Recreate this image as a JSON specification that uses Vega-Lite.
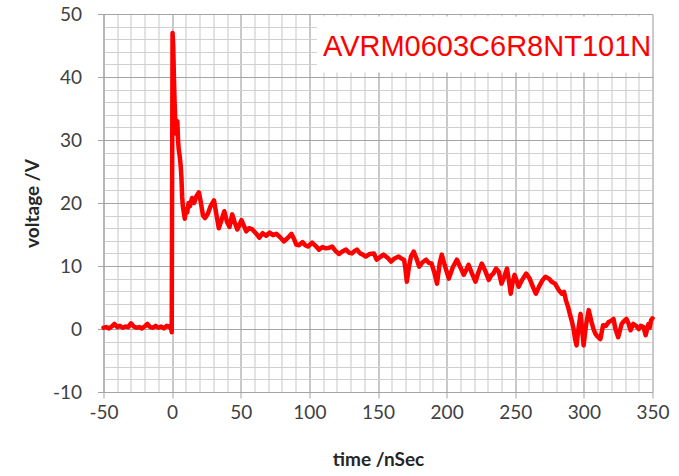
{
  "$schema": "https://vega.github.io/schema/vega-lite/v6.json",
  "width": 549,
  "height": 378,
  "autosize": {"type": "none"},
  "padding": {"left": 103.5, "top": 14, "right": 26.5, "bottom": 84},
  "background": "white",
  "config": {"view": {"stroke": null}},
  "layer": [
    {
      "data": {"values": [{"t": 105.5, "t2": 349.7, "v": 40.7, "v2": 49.6}]},
      "mark": {"type": "rect", "color": "white"},
      "encoding": {
        "x": {"field": "t", "type": "quantitative", "title": "time /nSec"},
        "x2": {"field": "t2"},
        "y": {"field": "v", "type": "quantitative", "title": "voltage /V"},
        "y2": {"field": "v2"}
      }
    },
    {
      "data": {"values": [
        {"t": -50, "v": 0.2}, {"t": -48, "v": 0.3}, {"t": -46, "v": 0.1}, {"t": -44, "v": 0.4}, {"t": -42, "v": 0.8},
        {"t": -40, "v": 0.3}, {"t": -38, "v": 0.5}, {"t": -36, "v": 0.2}, {"t": -34, "v": 0.4}, {"t": -32, "v": 0.3},
        {"t": -30, "v": 0.9}, {"t": -28, "v": 0.4}, {"t": -26, "v": 0.2}, {"t": -24, "v": 0.3}, {"t": -22, "v": 0.1},
        {"t": -20, "v": 0.4}, {"t": -18, "v": 0.8}, {"t": -16, "v": 0.3}, {"t": -14, "v": 0.2}, {"t": -12, "v": 0.5},
        {"t": -10, "v": 0.2}, {"t": -8, "v": 0.4}, {"t": -6, "v": 0.1}, {"t": -4, "v": 0.5}, {"t": -2, "v": 0.3},
        {"t": -1, "v": 0.6}, {"t": -0.3, "v": -0.5}, {"t": 0.3, "v": 47.0}, {"t": 0.8, "v": 45.0}, {"t": 1.3, "v": 40.0},
        {"t": 1.8, "v": 36.0}, {"t": 2.3, "v": 33.0}, {"t": 2.8, "v": 31.0}, {"t": 3.3, "v": 32.5}, {"t": 3.8, "v": 33.0},
        {"t": 4.3, "v": 30.0}, {"t": 4.8, "v": 28.5}, {"t": 5.5, "v": 27.5}, {"t": 6.2, "v": 26.0}, {"t": 6.8, "v": 24.0},
        {"t": 7.3, "v": 21.0}, {"t": 7.8, "v": 19.5}, {"t": 8.5, "v": 18.5}, {"t": 9.2, "v": 17.5}, {"t": 10, "v": 19.0},
        {"t": 11, "v": 18.5}, {"t": 12, "v": 20.0}, {"t": 13, "v": 19.5}, {"t": 14.5, "v": 20.8}, {"t": 16, "v": 20.0},
        {"t": 17.5, "v": 21.0}, {"t": 19.5, "v": 21.7}, {"t": 21, "v": 20.0}, {"t": 22.5, "v": 18.0}, {"t": 24, "v": 17.6},
        {"t": 26, "v": 18.3}, {"t": 28, "v": 19.5}, {"t": 30.5, "v": 20.4}, {"t": 32, "v": 18.5}, {"t": 34, "v": 16.0},
        {"t": 36, "v": 17.3}, {"t": 38, "v": 18.7}, {"t": 40, "v": 17.0}, {"t": 41.8, "v": 16.2}, {"t": 43.8, "v": 18.2},
        {"t": 45.5, "v": 17.0}, {"t": 47.5, "v": 15.8}, {"t": 49, "v": 16.5}, {"t": 50.5, "v": 17.3}, {"t": 52.5, "v": 16.3},
        {"t": 54, "v": 15.5}, {"t": 56, "v": 16.0}, {"t": 58.5, "v": 15.8}, {"t": 61, "v": 15.2}, {"t": 63.5, "v": 14.5},
        {"t": 66, "v": 15.2}, {"t": 68.5, "v": 14.8}, {"t": 71, "v": 15.3}, {"t": 73.5, "v": 14.9}, {"t": 76, "v": 15.1},
        {"t": 78.5, "v": 14.6}, {"t": 81.5, "v": 13.9}, {"t": 84, "v": 14.4}, {"t": 87, "v": 15.1}, {"t": 89, "v": 14.2},
        {"t": 90.5, "v": 13.4}, {"t": 92.5, "v": 13.3}, {"t": 95, "v": 13.8}, {"t": 97, "v": 13.3}, {"t": 99, "v": 13.1},
        {"t": 102, "v": 13.7}, {"t": 104.5, "v": 13.2}, {"t": 107, "v": 12.6}, {"t": 109.5, "v": 13.0}, {"t": 112, "v": 12.8},
        {"t": 114.5, "v": 12.9}, {"t": 116.5, "v": 13.1}, {"t": 119, "v": 12.4}, {"t": 121.6, "v": 11.9}, {"t": 124, "v": 12.3},
        {"t": 126.7, "v": 12.6}, {"t": 129, "v": 12.1}, {"t": 131, "v": 12.0}, {"t": 133, "v": 12.4}, {"t": 134.7, "v": 12.6},
        {"t": 137, "v": 12.0}, {"t": 139, "v": 11.8}, {"t": 141, "v": 11.5}, {"t": 144, "v": 11.9}, {"t": 147, "v": 12.0},
        {"t": 149, "v": 11.0}, {"t": 151.5, "v": 11.4}, {"t": 154, "v": 11.8}, {"t": 157, "v": 11.3}, {"t": 159.5, "v": 10.7},
        {"t": 162, "v": 11.2}, {"t": 165, "v": 11.5}, {"t": 167, "v": 11.2}, {"t": 169, "v": 11.0}, {"t": 170, "v": 9.5},
        {"t": 171, "v": 7.5}, {"t": 172.5, "v": 9.8}, {"t": 174, "v": 11.5}, {"t": 176, "v": 12.3}, {"t": 178, "v": 11.2},
        {"t": 180, "v": 9.9}, {"t": 182.5, "v": 10.6}, {"t": 185, "v": 11.0}, {"t": 187, "v": 10.5}, {"t": 189, "v": 10.4},
        {"t": 191, "v": 9.0}, {"t": 193, "v": 7.2}, {"t": 195, "v": 10.5}, {"t": 196.5, "v": 11.8}, {"t": 198.5, "v": 10.2},
        {"t": 201.6, "v": 8.0}, {"t": 204.5, "v": 9.8}, {"t": 207.5, "v": 11.0}, {"t": 210, "v": 9.8}, {"t": 212.5, "v": 8.6},
        {"t": 214.5, "v": 9.5}, {"t": 216, "v": 10.2}, {"t": 218.5, "v": 8.8}, {"t": 221, "v": 7.5}, {"t": 223.5, "v": 9.2},
        {"t": 225.6, "v": 10.4}, {"t": 228, "v": 9.3}, {"t": 230.7, "v": 7.8}, {"t": 232.5, "v": 8.5}, {"t": 234, "v": 8.8},
        {"t": 236, "v": 9.6}, {"t": 238, "v": 9.1}, {"t": 240, "v": 7.2}, {"t": 242, "v": 8.3}, {"t": 244, "v": 9.6},
        {"t": 245.5, "v": 7.5}, {"t": 246.7, "v": 5.6}, {"t": 248, "v": 7.3}, {"t": 249.5, "v": 8.6}, {"t": 251, "v": 7.7},
        {"t": 252.5, "v": 6.7}, {"t": 255, "v": 7.8}, {"t": 258, "v": 8.8}, {"t": 260.5, "v": 8.0}, {"t": 263, "v": 6.6},
        {"t": 265, "v": 5.6}, {"t": 267.5, "v": 6.8}, {"t": 270, "v": 7.8}, {"t": 272, "v": 8.3}, {"t": 274.5, "v": 8.0},
        {"t": 276.5, "v": 7.5}, {"t": 279, "v": 7.2}, {"t": 281.6, "v": 6.2}, {"t": 284, "v": 5.6}, {"t": 285.5, "v": 5.9},
        {"t": 287, "v": 4.5}, {"t": 288.5, "v": 3.5}, {"t": 290, "v": 2.2}, {"t": 291.5, "v": 1.0}, {"t": 292.5, "v": 0.0},
        {"t": 293.5, "v": -1.5}, {"t": 294.7, "v": -2.6}, {"t": 296, "v": 0.0}, {"t": 297.6, "v": 2.4}, {"t": 298.7, "v": 0.0},
        {"t": 299.8, "v": -2.6}, {"t": 301.5, "v": 0.5}, {"t": 303.5, "v": 3.0}, {"t": 305.6, "v": 1.1}, {"t": 307, "v": 0.0},
        {"t": 308.5, "v": -0.8}, {"t": 310, "v": -1.2}, {"t": 312, "v": -1.6}, {"t": 314, "v": 0.6}, {"t": 316, "v": 0.5},
        {"t": 318, "v": 1.1}, {"t": 320, "v": 1.3}, {"t": 321.6, "v": 1.6}, {"t": 323, "v": 0.0}, {"t": 325, "v": -1.3},
        {"t": 327.5, "v": 0.8}, {"t": 329, "v": 1.2}, {"t": 331, "v": 1.6}, {"t": 332.5, "v": 0.9}, {"t": 334, "v": -0.2},
        {"t": 336, "v": 0.8}, {"t": 338, "v": 0.5}, {"t": 340, "v": 0.0}, {"t": 341.5, "v": 0.5}, {"t": 343.5, "v": 0.3},
        {"t": 345, "v": -1.0}, {"t": 347, "v": 0.8}, {"t": 348, "v": 0.2}, {"t": 349, "v": 1.4}, {"t": 350, "v": 1.7}
      ]},
      "mark": {"type": "line", "color": "#ff0000", "strokeWidth": 4.5, "strokeJoin": "round", "strokeCap": "round"},
      "encoding": {
        "x": {
          "field": "t",
          "type": "quantitative",
          "title": "time /nSec",
          "scale": {"domain": [-50, 350], "nice": false, "zero": false},
          "axis": {
            "values": [-50, -40, -30, -20, -10, 0, 10, 20, 30, 40, 50, 60, 70, 80, 90, 100, 110, 120, 130, 140, 150, 160, 170, 180, 190, 200, 210, 220, 230, 240, 250, 260, 270, 280, 290, 300, 310, 320, 330, 340, 350],
            "tickCount": 100,
            "labelExpr": "datum.value % 50 === 0 ? '' + datum.value : ''",
            "labelFlush": false,
            "labelOverlap": false,
            "grid": true,
            "gridColor": {"condition": {"test": "datum.value % 50 === 0", "value": "#a4a4a4"}, "value": "#d0d0d0"},
            "gridWidth": 1.2,
            "tickColor": "#a4a4a4",
            "tickOpacity": {"condition": {"test": "datum.value % 50 === 0", "value": 1}, "value": 0},
            "tickSize": 6,
            "domainColor": "#a4a4a4",
            "labelFont": "Lato",
            "labelFontSize": 19,
            "labelColor": "#404040",
            "labelPadding": 5,
            "titleFont": "Lato",
            "titleFontSize": 19,
            "titleFontWeight": "bold",
            "titleColor": "#262626",
            "titleY": 73,
            "titleBaseline": "alphabetic"
          }
        },
        "y": {
          "field": "v",
          "type": "quantitative",
          "title": "voltage /V",
          "scale": {"domain": [-10, 50], "nice": false, "zero": false},
          "axis": {
            "values": [-10, -8, -6, -4, -2, 0, 2, 4, 6, 8, 10, 12, 14, 16, 18, 20, 22, 24, 26, 28, 30, 32, 34, 36, 38, 40, 42, 44, 46, 48, 50],
            "tickCount": 100,
            "labelExpr": "datum.value % 10 === 0 ? '' + datum.value : ''",
            "labelFlush": false,
            "labelOverlap": false,
            "grid": true,
            "gridColor": {"condition": {"test": "datum.value % 10 === 0", "value": "#a4a4a4"}, "value": "#d0d0d0"},
            "gridWidth": 1.2,
            "tickColor": "#a4a4a4",
            "tickOpacity": {"condition": {"test": "datum.value % 10 === 0", "value": 1}, "value": 0},
            "tickSize": 6,
            "domainColor": "#a4a4a4",
            "labelFont": "Lato",
            "labelFontSize": 19,
            "labelColor": "#404040",
            "labelPadding": 16,
            "titleFont": "Lato",
            "titleFontSize": 19,
            "titleFontWeight": "bold",
            "titleColor": "#262626",
            "titleX": -65,
            "titleY": 189,
            "titleBaseline": "alphabetic"
          }
        }
      }
    },
    {
      "data": {"values": [{"t": 109.9, "v": 43.3, "name": "AVRM0603C6R8NT101N"}]},
      "mark": {"type": "text", "align": "left", "baseline": "alphabetic", "font": "Liberation Sans", "fontSize": 29, "color": "#ff0000"},
      "encoding": {
        "x": {"field": "t", "type": "quantitative", "title": "time /nSec"},
        "y": {"field": "v", "type": "quantitative", "title": "voltage /V"},
        "text": {"field": "name"}
      }
    }
  ]
}
